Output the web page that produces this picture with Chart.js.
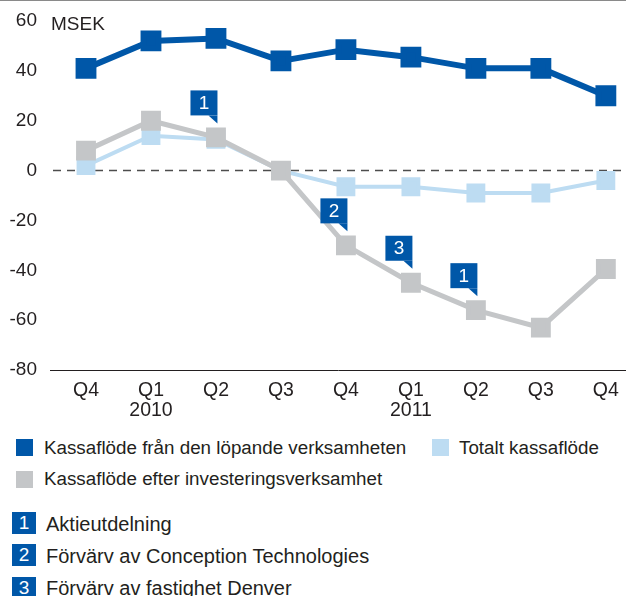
<!DOCTYPE html>
<html>
<head>
<meta charset="utf-8">
<script src="https://cdn.jsdelivr.net/npm/chart.js@4"></script>
<style>
  body { margin: 0; background: #fff; }
  #wrap { position: relative; width: 626px; height: 596px; overflow: hidden; font-family: "Liberation Sans", Arial, sans-serif; color: #231f20; }
  #chartBox { position: absolute; left: 0; top: 0; width: 626px; height: 430px; }
  .sw { position: absolute; width: 17px; height: 17px; }
  .lg { position: absolute; font-size: 18.8px; line-height: 1; white-space: nowrap; }
  .nb { position: absolute; left: 12px; width: 24px; height: 22px; background: #0057a8; color: #fff; font-size: 19px; line-height: 22px; text-align: center; }
  .nt { position: absolute; left: 46px; font-size: 20px; line-height: 1; white-space: nowrap; }
</style>
</head>
<body>
<div id="wrap">
  <div id="chartBox"><canvas id="kassaflode" width="626" height="430"></canvas></div>

  <div class="sw" style="left:16px;top:439px;background:#0057a8"></div>
  <div class="lg" style="left:44px;top:439px">Kassaflöde från den löpande verksamheten</div>
  <div class="sw" style="left:432px;top:439px;background:#bddcf2"></div>
  <div class="lg" style="left:459px;top:439px">Totalt kassaflöde</div>
  <div class="sw" style="left:16px;top:471px;background:#c4c6c8"></div>
  <div class="lg" style="left:44px;top:470px">Kassaflöde efter investeringsverksamhet</div>

  <div class="nb" style="top:512px">1</div>
  <div class="nt" style="top:514px">Aktieutdelning</div>
  <div class="nb" style="top:544px">2</div>
  <div class="nt" style="top:546px">Förvärv av Conception Technologies</div>
  <div class="nb" style="top:577px">3</div>
  <div class="nt" style="top:578px">Förvärv av fastighet Denver</div>
</div>

<script>
// data (MSEK)
const categories = ['Q4', ['Q1', '2010'], 'Q2', 'Q3', 'Q4', ['Q1', '2011'], 'Q2', 'Q3', 'Q4'];
const lopande = [41, 52, 53, 44, 48.5, 45.5, 41, 41, 30];
const totalt = [2, 14, 12.5, 0, -6.5, -6.5, -9, -9, -4];
const efterInv = [8, 20, 13.3, 0, -30, -45, -56, -63, -39.5];
const yTicks = [-80, -60, -40, -20, 0, 20, 40, 60];

// callouts on the grey line
const noteIdx = [2, 4, 5, 6];
const noteNum = ['1', '2', '3', '1'];

const DARK = '#0057a8';
const LIGHT = '#bddcf2';
const GREY = '#c4c6c8';
const TEXT = '#231f20';
const FONT = '"Liberation Sans", Arial, sans-serif';

const toPoints = arr => arr.map((v, i) => ({x: i, y: v}));

const extras = {
  id: 'extras',
  beforeDatasetsDraw(chart) {
    const ctx = chart.ctx;
    const y0 = chart.scales.y.getPixelForValue(0);
    ctx.save();
    // top rule
    ctx.strokeStyle = '#8a8a8a';
    ctx.lineWidth = 1;
    ctx.beginPath();
    ctx.moveTo(0, 0.5);
    ctx.lineTo(chart.width, 0.5);
    ctx.stroke();
    // dashed zero line
    ctx.strokeStyle = '#4d4d4d';
    ctx.lineWidth = 1.5;
    ctx.setLineDash([8, 6]);
    ctx.beginPath();
    ctx.moveTo(chart.chartArea.left + 3, y0);
    ctx.lineTo(chart.chartArea.right, y0);
    ctx.stroke();
    ctx.setLineDash([]);
    // unit
    ctx.fillStyle = TEXT;
    ctx.font = '19px ' + FONT;
    ctx.textBaseline = 'alphabetic';
    ctx.fillText('MSEK', 51, 29.5);
    ctx.restore();
  },
  afterDatasetsDraw(chart) {
    const ctx = chart.ctx;
    const meta = chart.getDatasetMeta(2);
    ctx.save();
    noteIdx.forEach((idx, k) => {
      const p = meta.data[idx];
      const right = p.x + 1.5;
      const apex = p.y - 14;
      const bottom = apex - 8;
      const top = bottom - 25;
      const left = right - 27;
      ctx.fillStyle = DARK;
      ctx.fillRect(left, top, 27, 25);
      ctx.beginPath();
      ctx.moveTo(right - 9, bottom);
      ctx.lineTo(right, bottom);
      ctx.lineTo(right, apex);
      ctx.closePath();
      ctx.fill();
      ctx.fillStyle = '#fff';
      ctx.font = '19px ' + FONT;
      ctx.textAlign = 'center';
      ctx.textBaseline = 'middle';
      ctx.fillText(noteNum[k], left + 13.5, top + 13.5);
    });
    ctx.restore();
  }
};

const ctxKassa = document.getElementById('kassaflode');

const dataKassa = {
  datasets: [
    {
      label: 'Kassaflöde från den löpande verksamheten',
      data: toPoints(lopande),
      borderColor: DARK,
      backgroundColor: DARK,
      borderWidth: 6,
      order: 2,
    },
    {
      label: 'Totalt kassaflöde',
      data: toPoints(totalt),
      borderColor: LIGHT,
      backgroundColor: LIGHT,
      borderWidth: 4,
      order: 1,
    },
    {
      label: 'Kassaflöde efter investeringsverksamhet',
      data: toPoints(efterInv),
      borderColor: GREY,
      backgroundColor: GREY,
      borderWidth: 5,
      order: 0,
    },
  ]
};

const configKassa = {
  type: 'line',
  data: dataKassa,
  options: {
    responsive: false,
    animation: false,
    events: [],
    layout: { autoPadding: false, padding: { top: 21, right: 0, bottom: 0, left: 0 } },
    elements: {
      line: { tension: 0 },
      point: { pointStyle: 'rect', radius: 10.5, borderWidth: 0 }
    },
    plugins: {
      legend: { display: false },
      tooltip: { enabled: false }
    },
    scales: {
      x: {
        type: 'linear',
        min: -0.554,
        max: 8.31,
        afterBuildTicks: s => { s.ticks = categories.map((c, i) => ({value: i})); },
        afterFit: s => { s.height = 60; s.paddingLeft = 0; s.paddingRight = 0; },
        grid: { display: false, drawTicks: false },
        border: { display: true, color: TEXT, width: 1 },
        ticks: {
          autoSkip: false,
          maxRotation: 0,
          padding: 10,
          color: TEXT,
          font: { family: FONT, size: 19.5, lineHeight: 1.05 },
          callback: v => categories[v]
        }
      },
      y: {
        min: -80,
        max: 60,
        afterBuildTicks: s => { s.ticks = yTicks.map(v => ({value: v})); },
        afterFit: s => { s.width = 50; s.paddingTop = 0; s.paddingBottom = 0; },
        grid: { display: false, drawTicks: false },
        border: { display: false },
        ticks: {
          padding: 13,
          color: TEXT,
          font: { family: FONT, size: 19 }
        }
      }
    }
  },
  plugins: [extras]
};

let kassaGraph = new Chart(ctxKassa, configKassa);
</script>
</body>
</html>
